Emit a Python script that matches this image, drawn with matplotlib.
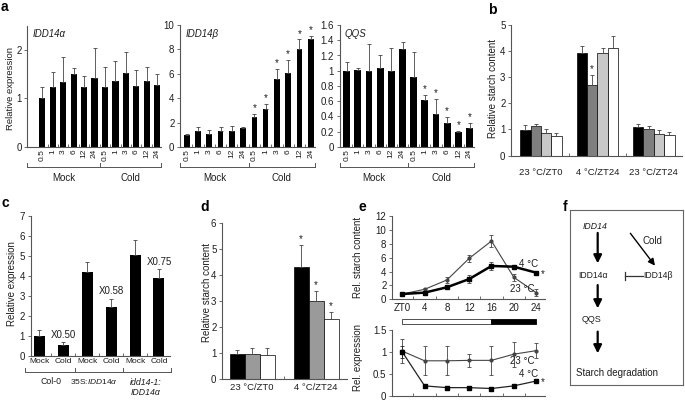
import matplotlib
matplotlib.use('Agg')
import matplotlib.pyplot as plt
from matplotlib.transforms import blended_transform_factory
from matplotlib.patches import Rectangle
import numpy as np

plt.rcParams['font.family'] = ['Liberation Sans', 'DejaVu Sans']
plt.rcParams['mathtext.fontset'] = 'custom'
plt.rcParams['mathtext.rm'] = 'Liberation Sans'
plt.rcParams['mathtext.it'] = 'Liberation Sans:italic'
plt.rcParams['mathtext.bf'] = 'Liberation Sans:bold'

# ---------------- data ----------------
time_points = ['0.5', '1', '3', '6', '12', '24']
treatments = ['Mock', 'Cold']

idd14a_mean = [1.00, 1.23, 1.35, 1.50, 1.23, 1.43, 1.23, 1.37, 1.53, 1.26, 1.36, 1.27]
idd14a_err = [0.24, 0.32, 0.50, 0.12, 0.23, 0.62, 0.42, 0.40, 0.42, 0.33, 0.29, 0.23]
idd14a_sig = []

idd14b_mean = [0.98, 1.34, 1.09, 1.34, 1.34, 1.53, 2.43, 3.11, 5.56, 6.10, 8.07, 8.83]
idd14b_err = [0.11, 0.29, 0.33, 0.27, 0.40, 0.13, 0.27, 0.43, 0.82, 1.04, 0.76, 0.27]
idd14b_sig = [6, 7, 8, 9, 10, 11]

qqs_mean = [1.00, 1.01, 1.00, 1.03, 1.00, 1.28, 0.92, 0.61, 0.43, 0.32, 0.20, 0.25]
qqs_err = [0.12, 0.02, 0.35, 0.18, 0.30, 0.10, 0.32, 0.07, 0.20, 0.07, 0.01, 0.07]
qqs_sig = [7, 8, 9, 10, 11]

b_conditions = ['23 °C/ZT0', '4 °C/ZT24', '23 °C/ZT24']
b_series1 = [0.96, 3.94, 1.09]
b_series1_err = [0.19, 0.26, 0.13]
b_series2 = [1.12, 2.72, 1.00]
b_series2_err = [0.10, 0.36, 0.12]
b_series3 = [0.86, 3.91, 0.83]
b_series3_err = [0.17, 0.19, 0.13]
b_series4 = [0.74, 4.10, 0.77]
b_series4_err = [0.13, 0.48, 0.13]
b_sig = [(1, 1)]  # (series, condition)

c_treat = ['Mock', 'Cold', 'Mock', 'Cold', 'Mock', 'Cold']
c_genotypes = ['Col-0', '35S:$\\mathit{IDD14α}$', 'idd14-1:\nIDD14α']
c_mean = [1.00, 0.52, 4.17, 2.44, 5.07, 3.87]
c_err = [0.29, 0.15, 0.53, 0.40, 0.71, 0.45]
c_ratio = ['X0.50', 'X0.58', 'X0.75']

d_conditions = ['23 °C/ZT0', '4 °C/ZT24']
d_series1 = [0.97, 4.33]
d_series1_err = [0.15, 0.84]
d_series2 = [0.96, 3.01]
d_series2_err = [0.23, 0.39]
d_series3 = [0.93, 2.32]
d_series3_err = [0.29, 0.28]
d_sig = [(0, 1), (1, 1), (2, 1)]

zt = [0, 4, 8, 12, 16, 20, 24]
zt_labels = ['ZT0', '4', '8', '12', '16', '20', '24']
starch_23c = [0.76, 1.44, 2.78, 5.90, 8.40, 3.17, 0.96]
starch_23c_err = [0.10, 0.20, 0.38, 0.48, 0.84, 0.48, 0.53]
starch_4c = [0.76, 0.96, 1.73, 2.92, 4.80, 4.70, 3.84]
starch_4c_err = [0.10, 0.15, 0.20, 0.60, 0.60, 0.30, 0.30]
expr_23c = [1.02, 0.80, 0.80, 0.81, 0.81, 0.95, 1.03]
expr_23c_err = [0.27, 0.33, 0.33, 0.14, 0.33, 0.28, 0.17]
expr_4c = [1.00, 0.23, 0.19, 0.19, 0.17, 0.23, 0.34]
expr_4c_err = [0.13, 0.03, 0.02, 0.02, 0.02, 0.02, 0.03]
light_period = (0, 16)
dark_period = (16, 24)

# ---------------- layout helpers ----------------
W, H = 685, 401
fig = plt.figure(figsize=(W / 100, H / 100), dpi=100)
TXT = '#1e1e1e'
AXC = '#555555'
EKW = dict(ecolor='#444444', elinewidth=0.6, capsize=1.5, capthick=0.6)


def px_axes(l, t, r, b):
    return fig.add_axes([l / W, 1 - b / H, (r - l) / W, (b - t) / H])


def style(ax, fs=7):
    for s in ['top', 'right']:
        ax.spines[s].set_visible(False)
    for s in ['left', 'bottom']:
        ax.spines[s].set_color(AXC)
        ax.spines[s].set_linewidth(0.8)
    ax.tick_params(colors=AXC, labelcolor=TXT, width=0.6, length=2, labelsize=fs, pad=2)
    ax.tick_params(axis='x', which='minor', direction='in', length=2.5, width=0.6, colors=AXC)


def fy(py):
    return 1 - py / H


def bracket(ax, x0, divs, x1, ypx, labels, label_ypx, fs=7):
    tr = blended_transform_factory(ax.transData, fig.transFigure)
    y = fy(ypx)
    h = 4 / H
    ax.plot([x0, x1], [y, y], transform=tr, clip_on=False, color=AXC, lw=0.7)
    edges = [x0] + list(divs) + [x1]
    for xv in edges:
        ax.plot([xv, xv], [y, y + h], transform=tr, clip_on=False, color=AXC, lw=0.7)
    for i, lab in enumerate(labels):
        xc = (edges[i] + edges[i + 1]) / 2
        ax.text(xc, fy(label_ypx), lab, transform=tr, ha='center', va='center',
                fontsize=fs, color=TXT)


def star(ax, x, y, fs=7):
    ax.annotate('*', (x, y), xytext=(0, 0.5), textcoords='offset points',
                ha='center', va='bottom', fontsize=fs, color=TXT)


# ---------------- panel a ----------------
def panel_a(rect, means, errs, sig, width, xlim, ylim, yticks, ylabels, title):
    ax = px_axes(*rect)
    style(ax)
    x = np.arange(len(means))
    ax.bar(x, means, width, color='black', yerr=[np.zeros(len(errs)), errs], error_kw=EKW)
    for i in sig:
        star(ax, x[i], means[i] + errs[i])
    ax.set_xlim(*xlim)
    ax.set_ylim(*ylim)
    ax.set_yticks(yticks)
    ax.set_yticklabels(ylabels)
    ax.set_xticks(x)
    ax.set_xticklabels(time_points * 2, rotation=90, fontsize=6)
    ax.tick_params(axis='x', which='major', length=0, pad=1.5)
    ax.set_xticks(x[:-1] + 0.5, minor=True)
    ax.text(0.04, 0.97, title, transform=ax.transAxes, fontstyle='italic',
            fontsize=7, va='top', ha='left', color=TXT)
    return ax


ax = panel_a((27.3, 25.75, 161, 147), idd14a_mean, idd14a_err, idd14a_sig, 0.6,
             (-1.44, 11.37), (0, 2.5), [0, 1, 2], ['0', '1', '2'], 'IDD14α')
bracket(ax, -1.44, [5.5], 11.37, 167, treatments, 178)

ax = panel_a((180, 25, 315, 147), idd14b_mean, idd14b_err, idd14b_sig, 0.5,
             (-0.6, 11.38), (0, 10), [0, 2, 4, 6, 8, 10], ['0', '2', '4', '6', '8', '10'],
             'IDD14β')
bracket(ax, -0.6, [5.5], 11.38, 167, treatments, 178)

qt = [0, 0.2, 0.4, 0.6, 0.8, 1.0, 1.2, 1.4, 1.6]
ax = panel_a((339.5, 25, 474, 147), qqs_mean, qqs_err, qqs_sig, 0.6,
             (-0.64, 11.4), (0, 1.6), qt, ['0', '0.2', '0.4', '0.6', '0.8', '1', '1.2', '1.4', '1.6'],
             'QQS')
bracket(ax, -0.64, [5.5], 11.4, 167, treatments, 178)

fig.text(11 / W, fy(88), 'Relative expression', rotation=90, ha='center', va='center',
         fontsize=6.8, color=TXT)

# ---------------- panel b ----------------
ax = px_axes(511, 25, 682, 155.5)
style(ax)
xb = np.arange(len(b_conditions))
bw = 0.184
b_all = [(b_series1, b_series1_err, 'black'), (b_series2, b_series2_err, '#7f7f7f'),
         (b_series3, b_series3_err, '#c8c8c8'), (b_series4, b_series4_err, 'white')]
for k, (vals, errs, col) in enumerate(b_all):
    pos = xb + (k - 1.5) * bw
    ax.bar(pos, vals, bw, color=col, edgecolor='black', linewidth=0.5,
           yerr=[np.zeros(len(errs)), errs], error_kw=EKW)
for (k, g) in b_sig:
    star(ax, xb[g] + (k - 1.5) * bw, b_all[k][0][g] + b_all[k][1][g])
ax.set_xlim(-0.53, 2.5)
ax.set_ylim(0, 5)
ax.set_yticks([0, 1, 2, 3, 4, 5])
ax.set_xticks(xb)
ax.set_xticklabels(b_conditions, fontsize=6.8)
ax.tick_params(axis='x', which='major', length=0, pad=9)
ax.set_xticks(xb[:-1] + 0.5, minor=True)
fig.text(493 / W, fy(88), 'Relative starch content', rotation=90, ha='center', va='center',
         fontsize=7, color=TXT)

# ---------------- panel c ----------------
ax = px_axes(30.7, 216, 170, 355.7)
style(ax)
xc = np.arange(len(c_mean))
ax.bar(xc, c_mean, 0.46, color='black', yerr=[np.zeros(len(c_err)), c_err], error_kw=EKW)
for j, i in enumerate([1, 3, 5]):
    ax.annotate(c_ratio[j], (xc[i], c_mean[i] + c_err[i]), xytext=(0, 2),
                textcoords='offset points', ha='center', va='bottom', fontsize=7, color=TXT)
ax.set_xlim(-0.36, 5.46)
ax.set_ylim(0, 7)
ax.set_yticks(range(8))
ax.set_xticks(xc)
ax.set_xticklabels(c_treat, fontsize=6)
ax.tick_params(axis='x', which='major', length=0, pad=2)
ax.set_xticks(xc[:-1] + 0.5, minor=True)
tr = blended_transform_factory(ax.transData, fig.transFigure)
y = fy(371.7)
ax.plot([-0.6, 5.5], [y, y], transform=tr, clip_on=False, color=AXC, lw=0.7)
for xv in [-0.6, 1.5, 3.5, 5.5]:
    ax.plot([xv, xv], [y, y + 4 / H], transform=tr, clip_on=False, color=AXC, lw=0.7)
ax.text(0.47, fy(381.7), c_genotypes[0], transform=tr, ha='center', va='center', fontsize=6.3, color=TXT)
ax.text(2.3, fy(381.7), c_genotypes[1], transform=tr, ha='center', va='center', fontsize=6.0, color=TXT)
ax.text(4.45, fy(387.5), c_genotypes[2], transform=tr, ha='center', va='center', fontsize=6.3,
        color=TXT, fontstyle='italic', linespacing=1.2)
fig.text(12 / W, fy(284), 'Relative expression', rotation=90, ha='center', va='center',
         fontsize=7, color=TXT)

# ---------------- panel d ----------------
ax = px_axes(222, 223.3, 347, 379.3)
style(ax)
xd = np.arange(len(d_conditions))
dw = 0.234
d_all = [(d_series1, d_series1_err, 'black'), (d_series2, d_series2_err, '#9a9a9a'),
         (d_series3, d_series3_err, 'white')]
for k, (vals, errs, col) in enumerate(d_all):
    pos = xd + (k - 1) * dw
    ax.bar(pos, vals, dw, color=col, edgecolor='black', linewidth=0.5,
           yerr=[np.zeros(len(errs)), errs], error_kw=EKW)
for (k, g) in d_sig:
    star(ax, xd[g] + (k - 1) * dw, d_all[k][0][g] + d_all[k][1][g])
ax.set_xlim(-0.47, 1.48)
ax.set_ylim(0, 6)
ax.set_yticks(range(7))
ax.set_xticks(xd)
ax.set_xticklabels(d_conditions, fontsize=6.8)
ax.tick_params(axis='x', which='major', length=0, pad=3)
ax.set_xticks([0.5], minor=True)
fig.text(206.7 / W, fy(293), 'Relative starch content', rotation=90, ha='center', va='center',
         fontsize=7, color=TXT)

# ---------------- panel e ----------------
axe1 = px_axes(392, 216, 545, 299.3)
style(axe1)
axe1.errorbar(zt, starch_23c, yerr=starch_23c_err, color='#444444', lw=0.8, marker='o', ms=2,
              capsize=1.5, elinewidth=0.6, capthick=0.6)
axe1.errorbar(zt, starch_4c, yerr=starch_4c_err, color='black', lw=1.8, marker='s', ms=2.5,
              capsize=1.5, elinewidth=0.6, capthick=0.6, ecolor='#444444')
axe1.set_xlim(-1.85, 25.6)
axe1.set_ylim(0, 12)
axe1.set_yticks([0, 2, 4, 6, 8, 10, 12])
axe1.set_xticks(zt)
axe1.set_xticklabels(zt_labels, fontsize=7)
axe1.tick_params(axis='x', which='major', length=0, pad=3)
axe1.set_xticks([2, 6, 10, 14, 18, 22], minor=True)
axe1.text(22.7, 5.1, '4 °C', fontsize=7, ha='center', va='center', color=TXT)
axe1.text(24.8, 3.7, '*', fontsize=7, ha='left', va='center', color=TXT)
axe1.text(21.6, 1.44, '23 °C', fontsize=7, ha='center', va='center', color=TXT)
trb = blended_transform_factory(axe1.transData, fig.transFigure)
axe1.add_patch(Rectangle((light_period[0], fy(324)), light_period[1] - light_period[0], 4.7 / H,
                         transform=trb, clip_on=False, facecolor='white', edgecolor='#333333', lw=0.6))
axe1.add_patch(Rectangle((dark_period[0], fy(324)), dark_period[1] - dark_period[0], 4.7 / H,
                         transform=trb, clip_on=False, facecolor='black', edgecolor='black', lw=0.6))
fig.text(358 / W, fy(257.5), 'Rel. starch content', rotation=90, ha='center', va='center',
         fontsize=7, color=TXT)

axe2 = px_axes(392, 330, 545, 396)
style(axe2)
axe2.errorbar(zt, expr_23c, yerr=expr_23c_err, color='#444444', lw=0.8, marker='o', ms=2,
              capsize=1.5, elinewidth=0.6, capthick=0.6)
axe2.errorbar(zt, expr_4c, yerr=expr_4c_err, color='#222222', lw=0.9, marker='s', ms=3,
              capsize=1.5, elinewidth=0.6, capthick=0.6, mfc='black', mec='black')
axe2.set_xlim(-1.85, 25.6)
axe2.set_ylim(0, 1.5)
axe2.set_yticks([0, 0.5, 1, 1.5])
axe2.set_yticklabels(['0', '0.5', '1', '1.5'])
axe2.set_xticks([])
axe2.set_xticks([2, 6, 10, 14, 18, 22], minor=True)
axe2.text(21.6, 0.80, '23 °C', fontsize=7, ha='center', va='center', color=TXT)
axe2.text(22.7, 0.50, '4 °C', fontsize=7, ha='center', va='center', color=TXT)
axe2.text(24.8, 0.32, '*', fontsize=7, ha='left', va='center', color=TXT)
fig.text(358 / W, fy(357.5), 'Rel. expression', rotation=90, ha='center', va='center',
         fontsize=7, color=TXT)

# ---------------- panel f ----------------
axf = px_axes(570, 210, 683, 385)
axf.set_xlim(0, 1)
axf.set_ylim(0, 1)
axf.set_xticks([])
axf.set_yticks([])
for s in axf.spines.values():
    s.set_color('#666666')
    s.set_linewidth(0.8)
ap = dict(arrowstyle='-|>', lw=1.6, color='black', mutation_scale=12, shrinkA=0, shrinkB=0)
axf.text(0.221, 0.905, 'IDD14', fontstyle='italic', fontsize=6.3, ha='center', va='center', color=TXT)
axf.annotate('', xy=(0.245, 0.695), xytext=(0.245, 0.869), arrowprops=ap)
axf.text(0.732, 0.823, 'Cold', fontsize=7, ha='center', va='center', color=TXT)
axf.annotate('', xy=(0.752, 0.682), xytext=(0.534, 0.867),
             arrowprops=dict(arrowstyle='-|>', lw=1.0, color='black', mutation_scale=10,
                             shrinkA=0, shrinkB=0))
axf.text(0.206, 0.623, 'IDD14α', fontsize=6.2, ha='center', va='center', color=TXT)
axf.text(0.78, 0.623, 'IDD14β', fontsize=6.2, ha='center', va='center', color=TXT)
axf.plot([0.487, 0.650], [0.623, 0.623], color='#333333', lw=0.9)
axf.plot([0.487, 0.487], [0.598, 0.648], color='#333333', lw=0.9)
axf.annotate('', xy=(0.245, 0.438), xytext=(0.245, 0.571), arrowprops=ap)
axf.text(0.192, 0.377, 'QQS', fontsize=6.5, ha='center', va='center', color=TXT)
axf.annotate('', xy=(0.245, 0.181), xytext=(0.245, 0.305), arrowprops=ap)
axf.text(0.413, 0.067, 'Starch degradation', fontsize=7, ha='center', va='center', color=TXT)

# ---------------- panel letters ----------------
for lab, (px, py) in {'a': (4, 7), 'b': (492, 10), 'c': (5, 203), 'd': (205, 207),
                      'e': (362, 207), 'f': (565, 207)}.items():
    fig.text(px / W, fy(py), lab, fontsize=10, fontweight='bold', ha='center', va='center',
             color='black')

fig.savefig('out.png', dpi=100)
